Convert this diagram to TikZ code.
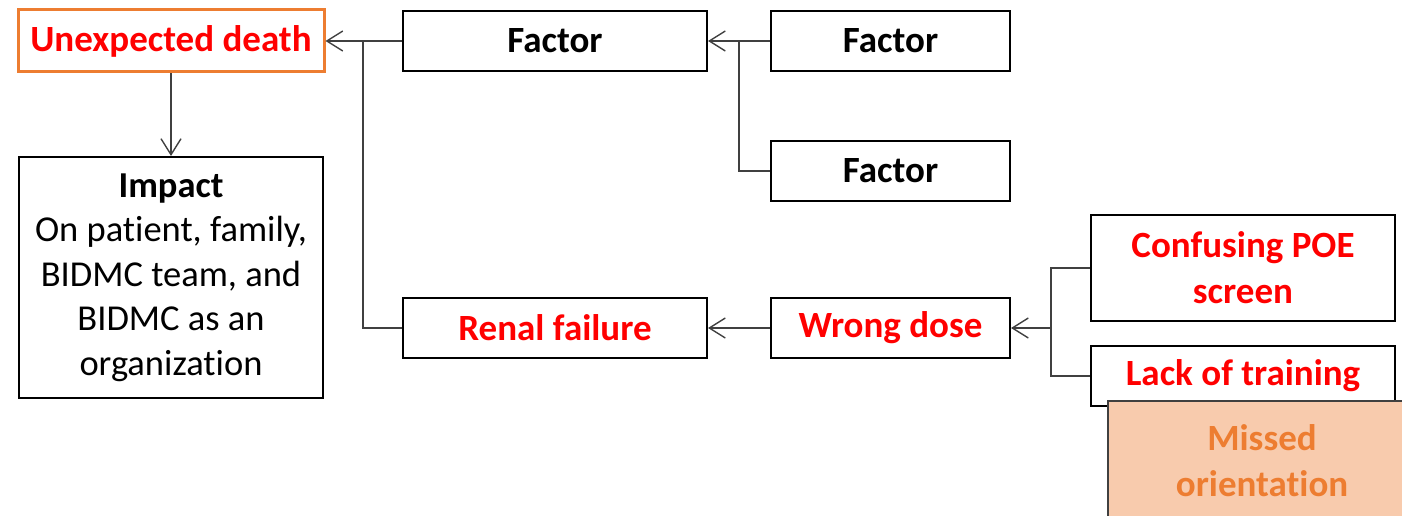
\documentclass[tikz,border=0pt]{standalone}
\usepackage{fontspec}
\setmainfont{Carlito}[Ligatures=NoCommon]
\usetikzlibrary{arrows.meta}
\definecolor{accent}{HTML}{ED7D31}
\definecolor{peach}{HTML}{F8CBAD}
\definecolor{wire}{HTML}{404040}
\definecolor{alert}{HTML}{FF0000}

\begin{document}
\begin{tikzpicture}[x=1pt,y=-1pt,
  box/.style={draw=black, line width=2pt, fill=white, inner sep=0pt,
    font=\fontsize{37}{46}\selectfont\bfseries, align=center},
  hot/.style={box, text=alert},
  wirestyle/.style={draw=wire, line width=1.4pt},
  feed/.style={wirestyle, -{Straight Barb[length=16pt,width=20pt,line width=1.4pt]}}]

  \useasboundingbox (0,0) rectangle (1402,516);
  \clip (0,0) rectangle (1402,516);

  % outcome and its impact
  \node[hot, draw=accent, line width=3pt, minimum width=306, minimum height=62]
    (death) at (171,41) {Unexpected death};
  \node[box, font=\fontsize{36.5}{44.5}\selectfont, minimum width=304, minimum height=241]
    (impact) at (171,277.5) {\textbf{Impact}\\On patient, family,\\BIDMC team, and\\BIDMC as an\\organization};

  % first level of causes
  \node[box, minimum width=304, minimum height=60] (f1) at (555,41) {Factor};
  \node[hot, minimum width=304, minimum height=60] (renal) at (555,328) {Renal failure};

  % second level
  \node[box, minimum width=239, minimum height=60] (f2) at (890.5,41) {Factor};
  \node[box, minimum width=239, minimum height=60] (f3) at (890.5,171) {Factor};
  \node[hot, minimum width=239, minimum height=60] (dose) at (890.5,328) {Wrong dose};

  % third level
  \node[hot, minimum width=304, minimum height=106] (poe) at (1243,268) {Confusing POE\\screen};
  \node[hot, minimum width=304, minimum height=60] (train) at (1243,376) {Lack of training};
  \node[draw=wire, line width=1.5pt, fill=peach, text=accent, inner sep=0pt,
    font=\fontsize{37}{46}\selectfont\bfseries, align=center,
    minimum width=308, minimum height=120] (orient) at (1262,461) {Missed\\orientation};

  % junction points of the branching connectors
  \coordinate (j1) at (363,41);
  \coordinate (j2) at (739,41);
  \coordinate (j3) at (1051,328);

  % connectors
  \draw[feed] (death.south) -- (impact.north);
  \draw[feed] (f1.west) -- (death.east);
  \draw[wirestyle] (renal.west) -| (j1);
  \draw[feed] (f2.west) -- (f1.east);
  \draw[wirestyle] (f3.west) -| (j2);
  \draw[feed] (dose.west) -- (renal.east);
  \draw[feed] (j3) -- (dose.east);
  \draw[wirestyle] (poe.west) -| (j3) |- (train.west);
\end{tikzpicture}
\end{document}
